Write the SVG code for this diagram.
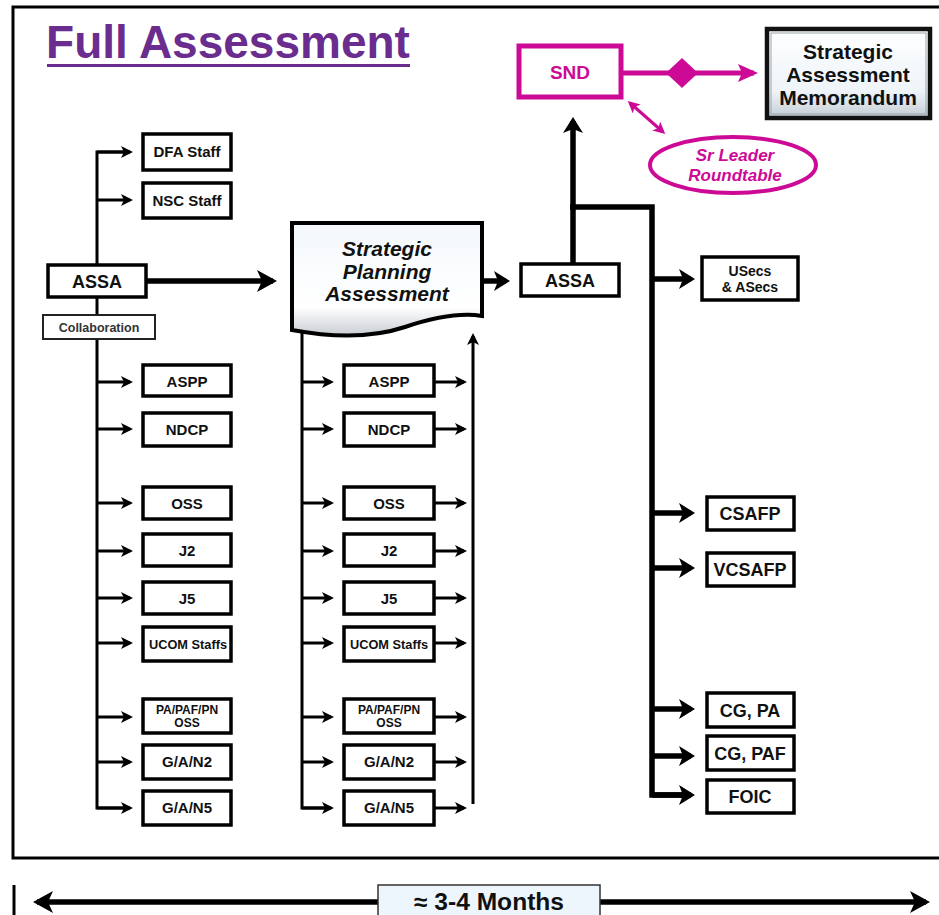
<svg xmlns="http://www.w3.org/2000/svg" width="939" height="915" viewBox="0 0 939 915">
<defs>
<style>
text{font-family:"Liberation Sans",Arial,sans-serif;font-weight:bold;text-anchor:middle;fill:#111}
.box{fill:#fff;stroke:#000;stroke-width:3.5}
.ln{fill:none;stroke:#000;stroke-width:3}
.thk{fill:none;stroke:#000;stroke-width:5.5}
.mag{fill:none;stroke:#cc0a96}
.t14{font-size:15px}
.t18{font-size:18px}
.t12{font-size:12px}
</style>
<marker id="as" markerUnits="userSpaceOnUse" markerWidth="12" markerHeight="12" refX="9" refY="6" orient="auto"><path d="M0,0 L12,6 L0,12 L3,6 Z" fill="#000"/></marker>
<marker id="am" markerUnits="userSpaceOnUse" markerWidth="16" markerHeight="20" refX="12" refY="10" orient="auto"><path d="M0,0 L16,10 L0,20 L4,10 Z" fill="#000"/></marker>
<marker id="al" markerUnits="userSpaceOnUse" markerWidth="20" markerHeight="22" refX="16" refY="11" orient="auto-start-reverse"><path d="M0,0 L20,11 L0,22 L5,11 Z" fill="#000"/></marker>
<marker id="amg" markerUnits="userSpaceOnUse" markerWidth="20" markerHeight="20" refX="16" refY="10" orient="auto"><path d="M0,1 L20,10 L0,19 L4,10 Z" fill="#cc0a96"/></marker>
<marker id="asg" markerUnits="userSpaceOnUse" markerWidth="12" markerHeight="12" refX="9" refY="6" orient="auto-start-reverse"><path d="M0,0 L12,6 L0,12 L3,6 Z" fill="#cc0a96"/></marker>
<linearGradient id="gdoc" x1="0" y1="0" x2="0" y2="1"><stop offset="0" stop-color="#f4f8fc"/><stop offset="0.75" stop-color="#ffffff"/><stop offset="1" stop-color="#c9ccd2"/></linearGradient>
<linearGradient id="gmemo" x1="0" y1="0" x2="0" y2="1"><stop offset="0" stop-color="#ffffff"/><stop offset="0.7" stop-color="#eef4f8"/><stop offset="1" stop-color="#c4ccd4"/></linearGradient>
</defs>
<rect width="939" height="915" fill="#fff"/>
<rect x="13" y="7" width="940" height="851" fill="none" stroke="#000" stroke-width="3"/>
<g id="title">
<text x="228" y="58" style="font-size:46px;fill:#6a2c8e">Full Assessment</text>
<rect x="47" y="64" width="363" height="3" fill="#6a2c8e"/>
</g>
<g id="connectors">
<path class="ln" d="M130,152 H97 V808 H130"/>
<line class="ln" x1="97" y1="152" x2="130" y2="152" marker-end="url(#as)"/>
<line class="ln" x1="97" y1="200" x2="130" y2="200" marker-end="url(#as)"/>
<line class="ln" x1="97" y1="382" x2="130" y2="382" marker-end="url(#as)"/>
<line class="ln" x1="97" y1="429" x2="130" y2="429" marker-end="url(#as)"/>
<line class="ln" x1="97" y1="503" x2="130" y2="503" marker-end="url(#as)"/>
<line class="ln" x1="97" y1="551" x2="130" y2="551" marker-end="url(#as)"/>
<line class="ln" x1="97" y1="598" x2="130" y2="598" marker-end="url(#as)"/>
<line class="ln" x1="97" y1="643" x2="130" y2="643" marker-end="url(#as)"/>
<line class="ln" x1="97" y1="717" x2="130" y2="717" marker-end="url(#as)"/>
<line class="ln" x1="97" y1="762" x2="130" y2="762" marker-end="url(#as)"/>
<line class="ln" x1="97" y1="808" x2="130" y2="808" marker-end="url(#as)"/>
<path class="ln" d="M302,330 V808 H331"/>
<line class="ln" x1="302" y1="382" x2="331" y2="382" marker-end="url(#as)"/>
<line class="ln" x1="302" y1="429" x2="331" y2="429" marker-end="url(#as)"/>
<line class="ln" x1="302" y1="503" x2="331" y2="503" marker-end="url(#as)"/>
<line class="ln" x1="302" y1="551" x2="331" y2="551" marker-end="url(#as)"/>
<line class="ln" x1="302" y1="598" x2="331" y2="598" marker-end="url(#as)"/>
<line class="ln" x1="302" y1="643" x2="331" y2="643" marker-end="url(#as)"/>
<line class="ln" x1="302" y1="717" x2="331" y2="717" marker-end="url(#as)"/>
<line class="ln" x1="302" y1="762" x2="331" y2="762" marker-end="url(#as)"/>
<line class="ln" x1="302" y1="808" x2="331" y2="808" marker-end="url(#as)"/>
<line class="ln" x1="434" y1="382" x2="464" y2="382" marker-end="url(#as)"/>
<line class="ln" x1="434" y1="429" x2="464" y2="429" marker-end="url(#as)"/>
<line class="ln" x1="434" y1="503" x2="464" y2="503" marker-end="url(#as)"/>
<line class="ln" x1="434" y1="551" x2="464" y2="551" marker-end="url(#as)"/>
<line class="ln" x1="434" y1="598" x2="464" y2="598" marker-end="url(#as)"/>
<line class="ln" x1="434" y1="643" x2="464" y2="643" marker-end="url(#as)"/>
<line class="ln" x1="434" y1="717" x2="464" y2="717" marker-end="url(#as)"/>
<line class="ln" x1="434" y1="762" x2="464" y2="762" marker-end="url(#as)"/>
<line class="ln" x1="434" y1="808" x2="464" y2="808" marker-end="url(#as)"/>
<line class="ln" x1="473" y1="804" x2="473" y2="336" marker-end="url(#as)"/>
<line class="thk" x1="146" y1="281" x2="273" y2="281" marker-end="url(#al)"/>
<line class="thk" x1="482" y1="281" x2="506" y2="281" marker-end="url(#am)"/>
<line class="thk" x1="573" y1="264" x2="573" y2="121" marker-end="url(#am)"/>
<path class="thk" d="M570,207 H652 V795 H691"/>
<line class="thk" x1="652" y1="279" x2="691" y2="279" marker-end="url(#am)"/>
<line class="thk" x1="652" y1="513" x2="691" y2="513" marker-end="url(#am)"/>
<line class="thk" x1="652" y1="568" x2="691" y2="568" marker-end="url(#am)"/>
<line class="thk" x1="652" y1="709" x2="691" y2="709" marker-end="url(#am)"/>
<line class="thk" x1="652" y1="756" x2="691" y2="756" marker-end="url(#am)"/>
<line class="thk" x1="652" y1="795" x2="691" y2="795" marker-end="url(#am)"/>
<line class="mag" stroke-width="5" x1="622" y1="73" x2="754" y2="73" marker-end="url(#amg)"/>
<polygon points="666,73 682,58 698,73 682,88" fill="#cc0a96"/>
<line class="mag" stroke-width="3" x1="630" y1="103" x2="663" y2="132" marker-start="url(#asg)" marker-end="url(#asg)"/>
</g>
<g id="dfa"><rect class="box" x="143" y="134" width="88" height="36"/><text class="t14" x="187" y="157">DFA Staff</text></g>
<g id="nsc"><rect class="box" x="143" y="183" width="88" height="35"/><text class="t14" x="187" y="206">NSC Staff</text></g>
<g id="assa1"><rect class="box" x="48" y="265" width="98" height="32"/><text class="t18" x="97" y="288">ASSA</text></g>
<g id="collab"><rect x="43" y="315" width="112" height="24" fill="#fff" stroke="#222" stroke-width="2"/><text x="99" y="332" style="font-size:12.5px;fill:#333">Collaboration</text></g>
<g id="l-aspp"><rect class="box" x="143" y="365" width="88" height="31"/><text class="t14" x="187" y="387">ASPP</text></g>
<g id="l-ndcp"><rect class="box" x="143" y="413" width="88" height="33"/><text class="t14" x="187" y="435">NDCP</text></g>
<g id="l-oss"><rect class="box" x="143" y="487" width="88" height="32"/><text class="t14" x="187" y="509">OSS</text></g>
<g id="l-j2"><rect class="box" x="143" y="534" width="88" height="32"/><text class="t14" x="187" y="556">J2</text></g>
<g id="l-j5"><rect class="box" x="143" y="582" width="88" height="32"/><text class="t14" x="187" y="604">J5</text></g>
<g id="l-ucom"><rect class="box" x="143" y="627" width="88" height="34"/><text x="188" y="649" style="font-size:13px" textLength="78" lengthAdjust="spacingAndGlyphs">UCOM Staffs</text></g>
<g id="l-pa"><rect class="box" x="143" y="699" width="88" height="34"/><text class="t12" x="187" y="714">PA/PAF/PN</text><text class="t12" x="187" y="727">OSS</text></g>
<g id="l-gan2"><rect class="box" x="143" y="745" width="88" height="34"/><text class="t14" x="187" y="767">G/A/N2</text></g>
<g id="l-gan5"><rect class="box" x="143" y="791" width="88" height="34"/><text class="t14" x="187" y="813">G/A/N5</text></g>
<g id="spa">
<path d="M292,223 H482 V316 C458,312 432,318 405,327 C372,338 335,338 292,330 Z" fill="url(#gdoc)" stroke="#000" stroke-width="4"/>
<text x="387" y="256" style="font-size:21px;font-style:italic">Strategic</text>
<text x="387" y="279" style="font-size:21px;font-style:italic">Planning</text>
<text x="387" y="301" style="font-size:21px;font-style:italic">Assessment</text>
</g>
<g id="m-aspp"><rect class="box" x="344" y="365" width="90" height="31"/><text class="t14" x="389" y="387">ASPP</text></g>
<g id="m-ndcp"><rect class="box" x="344" y="413" width="90" height="33"/><text class="t14" x="389" y="435">NDCP</text></g>
<g id="m-oss"><rect class="box" x="344" y="487" width="90" height="32"/><text class="t14" x="389" y="509">OSS</text></g>
<g id="m-j2"><rect class="box" x="344" y="534" width="90" height="32"/><text class="t14" x="389" y="556">J2</text></g>
<g id="m-j5"><rect class="box" x="344" y="582" width="90" height="32"/><text class="t14" x="389" y="604">J5</text></g>
<g id="m-ucom"><rect class="box" x="344" y="627" width="90" height="34"/><text x="389" y="649" style="font-size:13px" textLength="78" lengthAdjust="spacingAndGlyphs">UCOM Staffs</text></g>
<g id="m-pa"><rect class="box" x="344" y="699" width="90" height="34"/><text class="t12" x="389" y="714">PA/PAF/PN</text><text class="t12" x="389" y="727">OSS</text></g>
<g id="m-gan2"><rect class="box" x="344" y="745" width="90" height="34"/><text class="t14" x="389" y="767">G/A/N2</text></g>
<g id="m-gan5"><rect class="box" x="344" y="791" width="90" height="34"/><text class="t14" x="389" y="813">G/A/N5</text></g>
<g id="assa2"><rect class="box" x="521" y="264" width="98" height="32"/><text class="t18" x="570" y="287">ASSA</text></g>
<g id="snd"><rect x="519" y="46" width="102" height="51" fill="#fff" stroke="#cc0a96" stroke-width="5"/><text x="570" y="79" style="font-size:19px;fill:#cc0a96">SND</text></g>
<g id="memo">
<rect x="767" y="29" width="163" height="89" fill="url(#gmemo)" stroke="#111" stroke-width="4.5"/>
<rect x="771" y="33" width="155" height="81" fill="none" stroke="#9aa3aa" stroke-width="1"/>
<text x="848" y="59" style="font-size:21px">Strategic</text>
<text x="848" y="82" style="font-size:21px">Assessment</text>
<text x="848" y="105" style="font-size:21px">Memorandum</text>
</g>
<g id="roundtable">
<ellipse cx="733" cy="165" rx="83" ry="28" fill="#fff" stroke="#cc0a96" stroke-width="4"/>
<text x="735" y="161" style="font-size:17px;font-style:italic;fill:#cc0a96">Sr Leader</text>
<text x="735" y="181" style="font-size:17px;font-style:italic;fill:#cc0a96">Roundtable</text>
</g>
<g id="usecs"><rect class="box" x="702" y="257" width="96" height="43"/><text x="750" y="276" style="font-size:14px">USecs</text><text x="750" y="292" style="font-size:14px">&amp; ASecs</text></g>
<g id="csafp"><rect class="box" x="707" y="497" width="87" height="33"/><text class="t18" x="750" y="520">CSAFP</text></g>
<g id="vcsafp"><rect class="box" x="707" y="553" width="87" height="33"/><text class="t18" x="750" y="576">VCSAFP</text></g>
<g id="cgpa"><rect class="box" x="707" y="693" width="87" height="34"/><text class="t18" x="750" y="717">CG, PA</text></g>
<g id="cgpaf"><rect class="box" x="707" y="736" width="87" height="34"/><text class="t18" x="750" y="760">CG, PAF</text></g>
<g id="foic"><rect class="box" x="707" y="780" width="87" height="33"/><text class="t18" x="750" y="803">FOIC</text></g>
<g id="timeline">
<line x1="14" y1="885" x2="14" y2="915" stroke="#000" stroke-width="3"/>
<line x1="37" y1="902" x2="926" y2="902" stroke="#000" stroke-width="5.5" marker-start="url(#al)" marker-end="url(#al)"/>
<rect x="378" y="885" width="222" height="34" fill="#eef6fd" stroke="#333" stroke-width="1.5"/>
<text x="489" y="910" style="font-size:23px" textLength="150" lengthAdjust="spacingAndGlyphs">≈ 3-4 Months</text>
</g>
</svg>
